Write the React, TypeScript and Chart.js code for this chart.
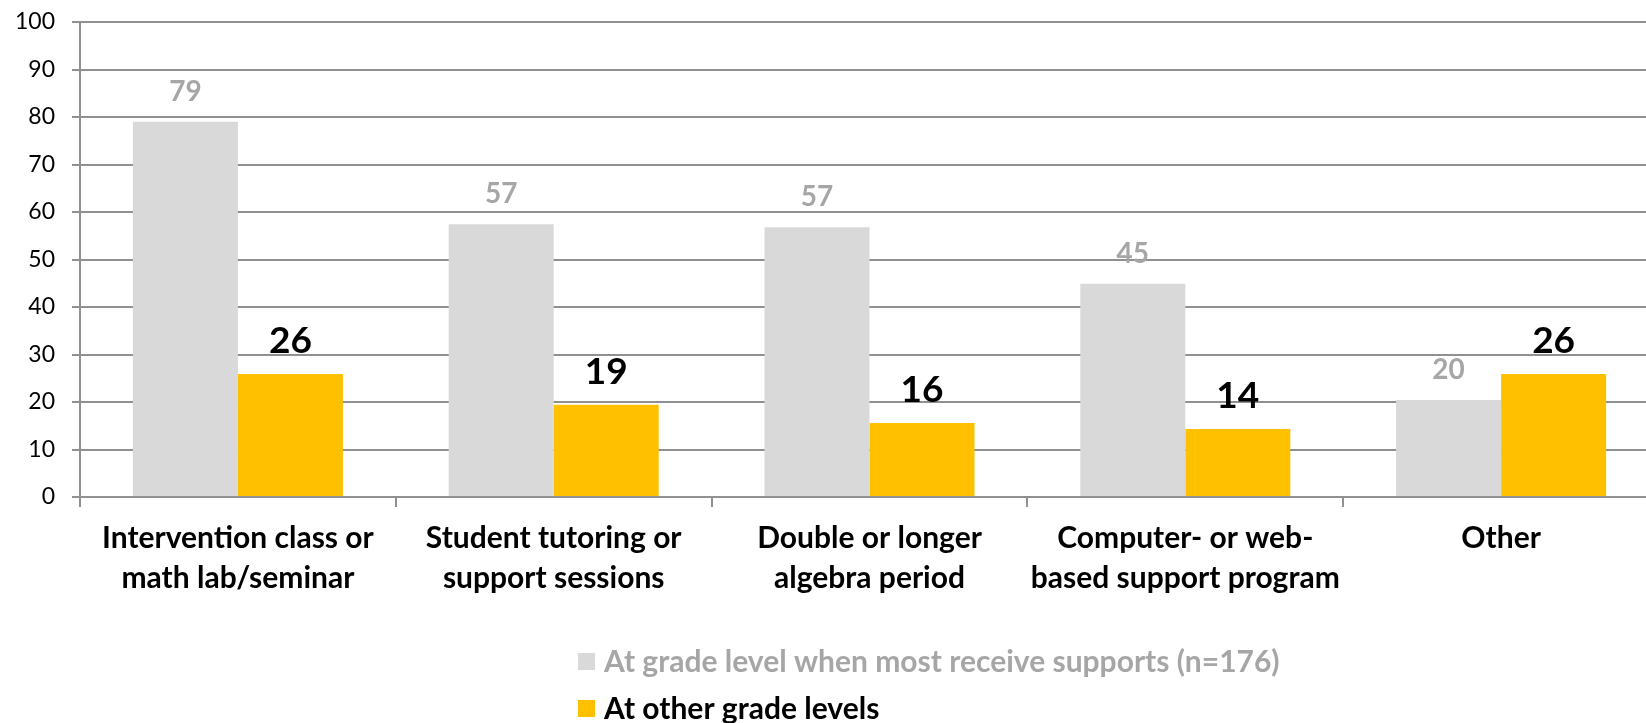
import { useEffect, useRef } from "react";
import { Chart, registerables } from "chart.js";

Chart.register(...registerables);

const categories: string[][] = [
  ["Intervention class or", "math lab/seminar"],
  ["Student tutoring or", "support sessions"],
  ["Double or longer", "algebra period"],
  ["Computer- or web-", "based support program"],
  ["Other"],
];
const gradeLevelValues = [79, 57.4, 56.8, 44.9, 20.4];
const otherGradeValues = [25.9, 19.4, 15.6, 14.3, 25.9];
const seriesLabels = [
  "At grade level when most receive supports (n=176)",
  "At other grade levels",
];
const seriesColors = ["#D9D9D9", "#FFC000"];
const labelColors = ["#A6A6A6", "#000000"];
const yMin = 0;
const yMax = 100;
const yStep = 10;

const FONT = "Lato, 'Open Sans', sans-serif";
const GRID = "#909090";

const valueLabelPlugin = {
  id: "valueLabels",
  afterDatasetsDraw(chart: any) {
    const ctx = chart.ctx;
    const sizes = [28, 37];
    chart.data.datasets.forEach((ds: any, i: number) => {
      const meta = chart.getDatasetMeta(i);
      ctx.save();
      ctx.font = `bold ${sizes[i]}px ${FONT}`;
      ctx.fillStyle = labelColors[i];
      ctx.textAlign = "center";
      ctx.textBaseline = "alphabetic";
      meta.data.forEach((el: any, j: number) => {
        ctx.fillText(String(Math.round(ds.data[j])), el.x, el.y - 21);
      });
      ctx.restore();
    });
  },
};

const legendPlugin = {
  id: "stackedLegend",
  afterDraw(chart: any) {
    const ctx = chart.ctx;
    const x0 = 578;
    const ys = [662, 709];
    chart.data.datasets.forEach((ds: any, i: number) => {
      ctx.save();
      ctx.fillStyle = ds.backgroundColor;
      ctx.fillRect(x0, ys[i] - 9, 17, 17);
      ctx.font = `bold 30px ${FONT}`;
      ctx.fillStyle = labelColors[i];
      ctx.textAlign = "left";
      ctx.textBaseline = "middle";
      ctx.fillText(ds.label, x0 + 26, ys[i]);
      ctx.restore();
    });
  },
};

export default function App() {
  const ref = useRef<HTMLCanvasElement | null>(null);
  useEffect(() => {
    if (!ref.current) return;
    const chart = new Chart(ref.current, {
      type: "bar",
      data: {
        labels: categories,
        datasets: [
          {
            label: seriesLabels[0],
            data: gradeLevelValues,
            backgroundColor: seriesColors[0],
            categoryPercentage: 0.665,
            barPercentage: 1,
          },
          {
            label: seriesLabels[1],
            data: otherGradeValues,
            backgroundColor: seriesColors[1],
            categoryPercentage: 0.665,
            barPercentage: 1,
          },
        ],
      },
      options: {
        responsive: false,
        animation: false,
        devicePixelRatio: 1,
        layout: { padding: { top: 22, right: 11, bottom: 126, left: 0 } },
        plugins: {
          legend: { display: false },
          tooltip: { enabled: false },
        },
        scales: {
          x: {
            offset: true,
            grid: {
              offset: true,
              drawOnChartArea: false,
              drawTicks: true,
              tickLength: 10,
              color: GRID,
              lineWidth: 2,
            },
            border: { color: GRID, width: 2 },
            ticks: {
              color: "#000",
              font: { family: FONT, size: 30, weight: "bold", lineHeight: 1.33 },
              padding: 11,
              maxRotation: 0,
              autoSkip: false,
            },
            afterFit: (s: any) => {
              s.height = 100;
            },
          },
          y: {
            min: yMin,
            max: yMax,
            ticks: {
              stepSize: yStep,
              color: "#000",
              font: { family: FONT, size: 23 },
              padding: 17,
            },
            grid: { color: GRID, lineWidth: 2, tickLength: 8 },
            border: { color: GRID, width: 2 },
            afterFit: (s: any) => {
              s.width = 80;
              s.paddingTop = 0;
              s.paddingBottom = 0;
            },
          },
        },
      },
      plugins: [valueLabelPlugin, legendPlugin],
    });
    return () => chart.destroy();
  }, []);
  return (
    <div
      style={{
        position: "fixed",
        left: 0,
        top: 0,
        width: 1646,
        height: 723,
        overflow: "hidden",
        background: "#fff",
      }}
    >
      <canvas ref={ref} width={1670} height={723} style={{ display: "block" }} />
    </div>
  );
}
